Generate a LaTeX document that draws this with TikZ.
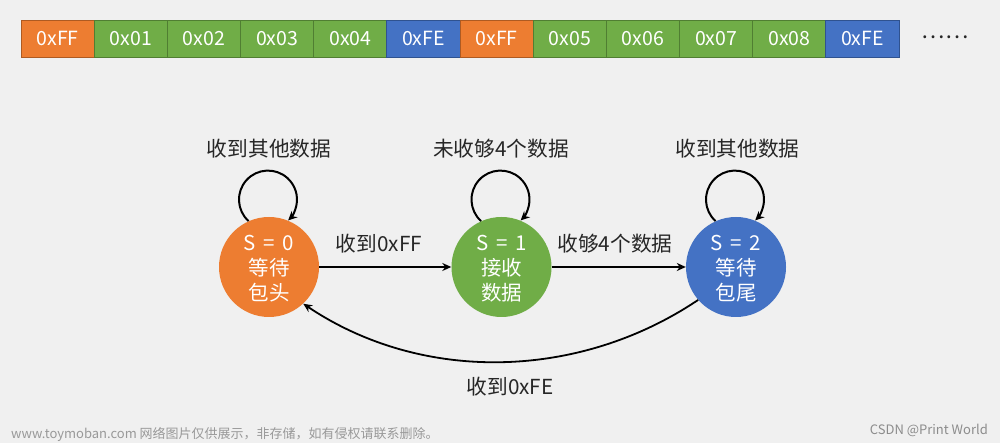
\documentclass[tikz,border=0pt]{standalone}
\usepackage{fontspec}
\setmainfont{Noto Sans CJK SC}
\newfontfamily\widesp[WordSpace=1.7]{Noto Sans CJK SC}
\usetikzlibrary{arrows.meta}
\definecolor{bg}{HTML}{F0F0F0}
\definecolor{org}{HTML}{ED7D31}
\definecolor{grn}{HTML}{70AD47}
\definecolor{blu}{HTML}{4472C4}
\definecolor{orgd}{HTML}{AE5A21}
\definecolor{grnd}{HTML}{507E32}
\definecolor{blud}{HTML}{2F528F}
\definecolor{ink}{HTML}{262626}
\newcommand{\toprule}{\rule{0pt}{19.3pt}}
\tikzset{
  cell/.style={rectangle,anchor=center,minimum width=73.17pt,minimum height=37pt,inner sep=0pt,line width=.8pt,text=white,font=\fontsize{19.5}{19.5}\selectfont},
  co/.style={cell,fill=org,draw=orgd},
  cg/.style={cell,fill=grn,draw=grnd},
  cb/.style={cell,fill=blu,draw=blud},
  state/.style={circle,minimum size=100pt,inner sep=0pt,text=white,align=center,font=\fontsize{20.5}{25}\selectfont},
  lab/.style={text=ink,inner sep=0pt,font=\fontsize{20.7}{24}\selectfont},
  conn/.style={draw=black,line width=1.8pt,-{Stealth[length=9pt,width=8pt]}},
  loopc/.style={draw=black,line width=2pt,-{Stealth[length=9pt,width=8.5pt]}},
  wm/.style={text=black!40,inner sep=0pt,font=\fontsize{13}{15}\selectfont}
}
\begin{document}
\begin{tikzpicture}[x=1pt,y=1pt]
\fill[bg] (0,0) rectangle (1000,443);
\useasboundingbox (0,0) rectangle (1000,443);
% byte row
\node[co] (b1) at (57.6,404.5) {0xFF};
\node[cg] (b2) at (130.8,404.5) {0x01};
\node[cg] (b3) at (203.9,404.5) {0x02};
\node[cg] (b4) at (277.1,404.5) {0x03};
\node[cg] (b5) at (350.3,404.5) {0x04};
\node[cb] (b6) at (423.4,404.5) {0xFE};
\node[co] (b7) at (496.6,404.5) {0xFF};
\node[cg] (b8) at (569.8,404.5) {0x05};
\node[cg] (b9) at (642.9,404.5) {0x06};
\node[cg] (b10) at (716.1,404.5) {0x07};
\node[cg] (b11) at (789.3,404.5) {0x08};
\node[cb] (b12) at (862.4,404.5) {0xFE};
\node[text=ink,inner sep=0pt,font=\fontsize{22}{22}\selectfont] (more) at (945,406) {……};
% states
\node[state,fill=org] (s0) at (269,176) {\toprule{\widesp S = 0}\\等待\\包头};
\node[state,fill=grn] (s1) at (501.5,176) {\toprule{\widesp S = 1}\\接收\\数据};
\node[state,fill=blu] (s2) at (736,176) {\toprule{\widesp S = 2}\\等待\\包尾};
% labels
\node[lab] (l0) at (269,294) {收到其他数据};
\node[lab] (l1) at (501,294) {未收够4个数据};
\node[lab] (l2) at (737.5,294) {收到其他数据};
\node[lab] (e01) at (379,199) {收到0xFF};
\node[lab] (e12) at (615,199) {收够4个数据};
\node[lab] (e20) at (510,56) {收到0xFE};
% connectors
\draw[conn] (s0) -- (s1);
\draw[conn] (s1) -- (s2);
\draw[conn] (s2.221) .. controls +(-119,-80) and ([shift={(119,-80)}]s0.313) .. (s0.313);
\draw[loopc] (s0.114) arc[start angle=228,end angle=-46,radius=29];
\draw[loopc] (s1.114) arc[start angle=228,end angle=-46,radius=29];
\draw[loopc] (s2.114) arc[start angle=228,end angle=-46,radius=29];
% watermark
\node[wm,anchor=west] (w1) at (11,9) {www.toymoban.com 网络图片仅供展示，非存储，如有侵权请联系删除。};
\node[wm,anchor=east,text=black!45] (w2) at (988,13) {CSDN @Print World};
\end{tikzpicture}
\end{document}
